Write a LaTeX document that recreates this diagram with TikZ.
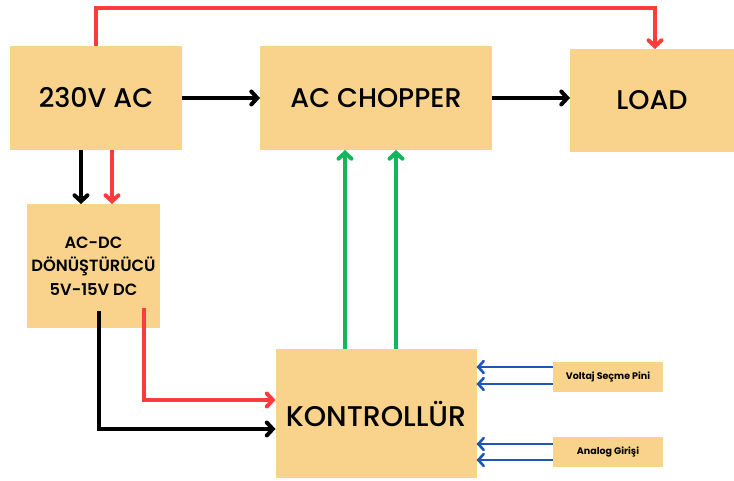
\documentclass[tikz,border=0pt]{standalone}
\usepackage{fontspec}
\setmainfont{Poppins}
\newfontfamily\labelfont{Poppins Medium}
\newfontfamily\semifont{Poppins SemiBold}
\usepackage{tikz}
\usetikzlibrary{arrows.meta,positioning}
\definecolor{blockfill}{HTML}{F9D38B}
\definecolor{powerred}{HTML}{FF3B3B}
\definecolor{gatecolor}{HTML}{12B75A}
\definecolor{signalblue}{HTML}{1F55B5}

\begin{document}
\begin{tikzpicture}[
    x=1pt, y=-1pt,
    node distance=78pt and 78pt,
    block/.style={fill=blockfill, inner sep=0pt, outer sep=0pt, align=center, font=\labelfont\fontsize{27}{32}\selectfont},
    smallblock/.style={block, minimum width=110pt, minimum height=30pt, font=\fontsize{9.5}{11}\selectfont\bfseries},
    arrow/.style={-{Straight Barb[length=6pt, width=13pt, line cap=round]}, line width=4pt},
    blackarrow/.style={arrow, draw=black},
    redarrow/.style={arrow, draw=powerred},
    greenarrow/.style={arrow, draw=gatecolor},
    bluearrow/.style={-{Straight Barb[length=5.5pt, width=12pt, line cap=round]}, line width=2.6pt, draw=signalblue}
  ]
    \useasboundingbox (0,0) rectangle (734,481);

    \node[block, minimum width=172pt, minimum height=104pt] (ac) at (96,98) {230V AC};
    \node[block, minimum width=232pt, minimum height=104pt, right=of ac] (chopper) {AC CHOPPER};
    \node[block, minimum width=164pt, minimum height=103pt] (load) at (652,100.5) {LOAD};
    \node[block, minimum width=133pt, minimum height=124pt, font=\semifont\fontsize{16.3}{23.5}\selectfont] (acdc) at (93.5,266) {AC-DC\\DÖNÜŞTÜRÜCÜ\\5V-15V DC};
    \node[block, minimum width=201pt, minimum height=129pt, below=199pt of chopper, font=\labelfont\fontsize{28.5}{33}\selectfont] (ctrl) {KONTROLLÜR};
    \node[smallblock] (volt) at (608,377) {Voltaj Seçme Pini};
    \node[smallblock] (analog) at (608,452) {Analog Girişi};

    % main power path
    \draw[blackarrow] (ac) -- (chopper);
    \draw[blackarrow] (chopper.east) -- (chopper.east -| load.west);
    \draw[redarrow] (ac.north) -- ++(0,-38) -| ([xshift=3pt]load.north);

    % supply to converter
    \draw[blackarrow] ([xshift=-15pt]ac.south) -- ([xshift=-15pt]ac.south |- acdc.north);
    \draw[redarrow] ([xshift=16pt]ac.south) -- ([xshift=16pt]ac.south |- acdc.north);

    % converter to controller
    \draw[blackarrow] ([xshift=5.5pt, yshift=17pt]acdc.south) |- ([yshift=-15.5pt]ctrl.west);
    \draw[redarrow] ([xshift=50.5pt, yshift=20pt]acdc.south) |- ([yshift=13.5pt]ctrl.west);

    % gate signals
    \draw[greenarrow] ([xshift=-31pt]ctrl.north) -- ([xshift=-31pt]chopper.south);
    \draw[greenarrow] ([xshift=20pt]ctrl.north) -- ([xshift=20pt]chopper.south);

    % inputs
    \draw[bluearrow] ([yshift=10pt]volt.west) -- ([yshift=10pt]volt.west -| ctrl.east);
    \draw[bluearrow] ([yshift=-7pt]volt.west) -- ([yshift=-7pt]volt.west -| ctrl.east);
    \draw[bluearrow] ([yshift=8pt]analog.west) -- ([yshift=8pt]analog.west -| ctrl.east);
    \draw[bluearrow] ([yshift=-8pt]analog.west) -- ([yshift=-8pt]analog.west -| ctrl.east);
  \end{tikzpicture}
\end{document}
